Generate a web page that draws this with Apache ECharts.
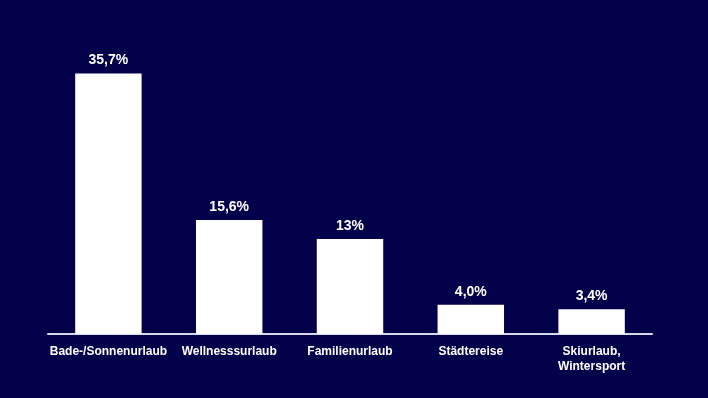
<!DOCTYPE html>
<html>
<head>
<meta charset="utf-8">
<script src="https://cdn.jsdelivr.net/npm/echarts@6/dist/echarts.min.js"></script>
<style>
  html, body { margin: 0; padding: 0; background: #03014a; }
  #chart { width: 708px; height: 398px; }
</style>
</head>
<body>
<div id="chart"></div>
<script>
const categories = ['Bade-/Sonnenurlaub', 'Wellnesssurlaub', 'Familienurlaub', 'Städtereise', 'Skiurlaub,\nWintersport']
const values = [35.7, 15.6, 13, 4.0, 3.4]
const valueLabels = ['35,7%', '15,6%', '13%', '4,0%', '3,4%']

const myChart = echarts.init(document.getElementById('chart'))

const option = {
  backgroundColor: '#03014a',
  animation: false,
  grid: {
    left: 48,
    right: 56,
    top: 42,
    bottom: 64
  },
  xAxis: {
    type: 'category',
    data: categories,
    axisTick: { show: false },
    axisLine: {
      lineStyle: { color: '#d8d8e8', width: 2 }
    },
    axisLabel: {
      color: '#ffffff',
      fontFamily: 'Liberation Sans',
      fontWeight: 'bold',
      fontSize: 12,
      margin: 10,
      lineHeight: 15,
      interval: 0
    }
  },
  yAxis: {
    type: 'value',
    min: 0,
    max: 40,
    show: false,
    splitLine: { show: false }
  },
  series: [
    {
      type: 'bar',
      data: values,
      barWidth: '55%',
      itemStyle: { color: '#ffffff' },
      label: {
        show: true,
        position: 'top',
        distance: 6,
        color: '#ffffff',
        fontFamily: 'Liberation Sans',
        fontWeight: 'bold',
        fontSize: 14,
        formatter: function (p) {
          return valueLabels[p.dataIndex]
        }
      }
    }
  ]
}

myChart.setOption(option)
</script>
</body>
</html>
